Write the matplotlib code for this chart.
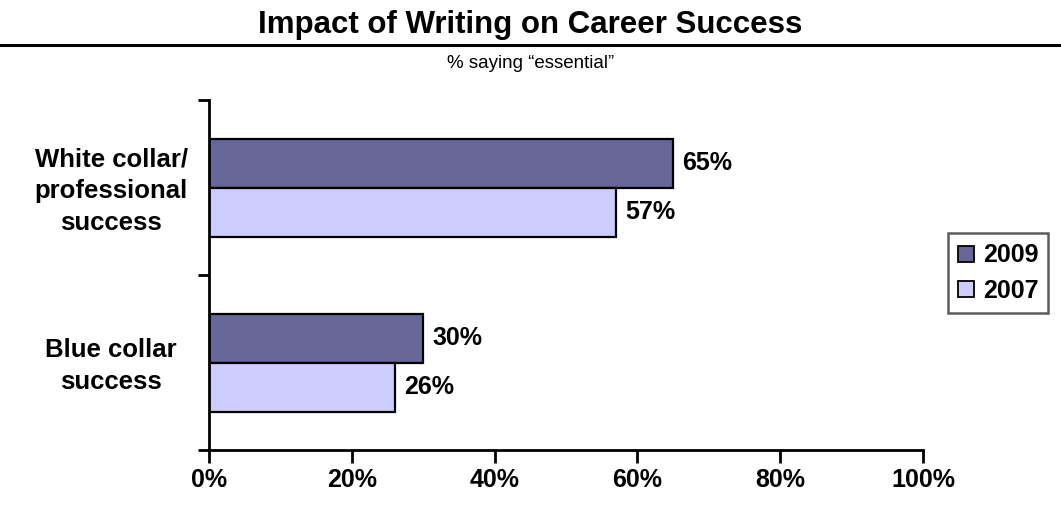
import numpy as np
import matplotlib.pyplot as plt
from matplotlib.lines import Line2D

plt.rcParams['font.family'] = ['Liberation Sans', 'DejaVu Sans']

# survey share saying writing is "essential"
categories = ['White collar/\nprofessional\nsuccess', 'Blue collar\nsuccess']
years = ['2009', '2007']
vals_2009 = [65, 30]
vals_2007 = [57, 26]
colors = ['#666699', '#CCCCFF']
xticks = [0, 20, 40, 60, 80, 100]

fig = plt.figure(figsize=(10.61, 5.08), dpi=100)
ax = fig.add_axes([209/1061, 1-450/508, (923-209)/1061, 350/508])

y = np.arange(len(categories))
h = 0.28
b1 = ax.barh(y - h/2, vals_2009, height=h, color=colors[0], edgecolor='black', linewidth=1.6, label=years[0])
b2 = ax.barh(y + h/2, vals_2007, height=h, color=colors[1], edgecolor='black', linewidth=1.6, label=years[1])

for bars, vals in [(b1, vals_2009), (b2, vals_2007)]:
    for bar, v in zip(bars, vals):
        ax.text(v + 1.3, bar.get_y() + bar.get_height()/2, f'{v}%', va='center', ha='left',
                fontsize=18, fontweight='bold')

ax.set_ylim(1.5, -0.5)
ax.set_xlim(0, 100)
ax.set_yticks([-0.5, 0.5, 1.5])
ax.set_yticklabels([])
for yi, lab in zip(y, categories):
    ax.text(-0.137, yi + 0.02, lab, transform=ax.get_yaxis_transform(), ha='center', va='center',
            fontsize=18.5, fontweight='bold', linespacing=1.42)
ax.set_xticks(xticks)
ax.set_xticklabels([f'{t}%' for t in xticks], fontsize=18, fontweight='bold')
ax.tick_params(axis='x', length=9, width=2, pad=4)
ax.tick_params(axis='y', length=8, width=2)
for s in ['top', 'right']:
    ax.spines[s].set_visible(False)
for s in ['left', 'bottom']:
    ax.spines[s].set_linewidth(2)

handles = [Line2D([], [], marker='s', linestyle='none', markersize=12, markerfacecolor=c,
                  markeredgecolor='black', markeredgewidth=1.3) for c in colors]
leg = fig.legend(handles, years, loc='center', bbox_to_anchor=(998/1061, 1-273/508),
                 prop={'size': 18, 'weight': 'bold'}, frameon=True, fancybox=False,
                 handlelength=0.7, handletextpad=0.3, borderpad=0.4, labelspacing=0.45,
                 borderaxespad=0)
leg.get_frame().set_edgecolor('#333333')
leg.get_frame().set_linewidth(1.8)

fig.text(0.5, 1-33/508, 'Impact of Writing on Career Success', ha='center', va='baseline',
         fontsize=22.5, fontweight='bold')
fig.add_artist(Line2D([0, 1], [1-44.5/508, 1-44.5/508], color='black', linewidth=2.2))
fig.text(0.5, 1-63/508, '% saying \u201cessential\u201d', ha='center', va='center', fontsize=13.5)

fig.savefig('out.png', dpi=100)
